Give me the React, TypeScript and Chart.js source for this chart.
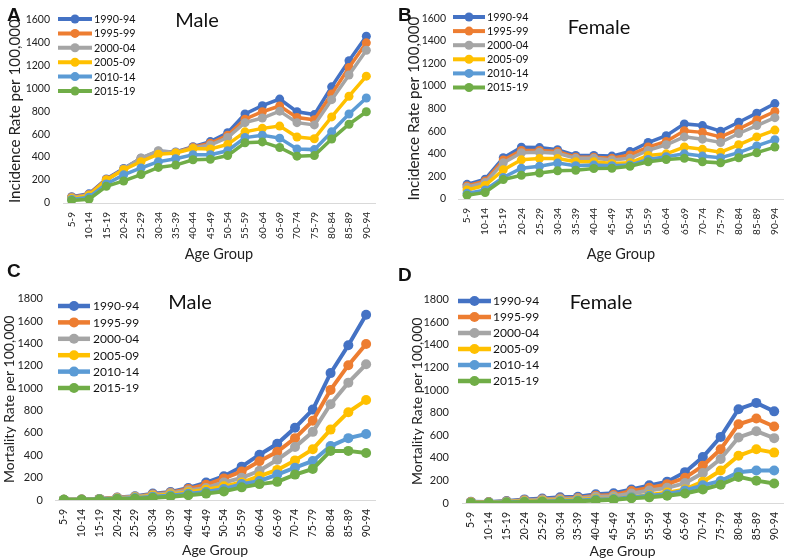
import React, { useEffect, useRef } from 'react';
import { Chart, registerables } from 'chart.js';

Chart.register(...registerables);

const ageGroups = ['5-9', '10-14', '15-19', '20-24', '25-29', '30-34', '35-39', '40-44', '45-49', '50-54', '55-59', '60-64', '65-69', '70-74', '75-79', '80-84', '85-89', '90-94'];
const periods = ['1990-94', '1995-99', '2000-04', '2005-09', '2010-14', '2015-19'];
const periodColors = ['#4472C4', '#ED7D31', '#A5A5A5', '#FFC000', '#5B9BD5', '#70AD47'];

const incidenceTicks = [0, 200, 400, 600, 800, 1000, 1200, 1400, 1600];
const mortalityTicks = [0, 200, 400, 600, 800, 1000, 1200, 1400, 1600, 1800];

const maleIncidence = [
  [55, 80, 210, 300, 390, 450, 445, 490, 535, 612, 775, 848, 905, 795, 770, 1012, 1240, 1452],
  [50, 75, 205, 295, 385, 440, 440, 485, 520, 590, 730, 795, 845, 745, 725, 950, 1180, 1395],
  [45, 70, 200, 295, 392, 455, 440, 480, 505, 570, 700, 740, 800, 700, 680, 900, 1115, 1330],
  [40, 65, 200, 290, 360, 425, 435, 475, 470, 510, 620, 650, 670, 575, 560, 750, 930, 1105],
  [30, 50, 165, 245, 305, 360, 385, 420, 420, 455, 570, 590, 565, 470, 465, 620, 775, 915],
  [22, 32, 145, 192, 248, 310, 330, 377, 380, 413, 525, 532, 483, 408, 413, 557, 686, 795],
];

const femaleIncidence = [
  [130, 175, 365, 458, 455, 436, 386, 386, 380, 420, 500, 560, 665, 650, 600, 680, 760, 845],
  [115, 160, 345, 430, 430, 420, 370, 370, 360, 390, 460, 510, 605, 590, 550, 620, 700, 775],
  [105, 145, 320, 410, 415, 405, 360, 360, 345, 360, 430, 480, 550, 530, 500, 580, 650, 720],
  [80, 120, 258, 347, 358, 358, 330, 330, 315, 320, 385, 400, 460, 440, 415, 480, 550, 610],
  [50, 80, 190, 272, 290, 318, 295, 300, 295, 300, 350, 375, 400, 380, 365, 410, 470, 525],
  [33, 58, 172, 210, 230, 250, 255, 270, 272, 290, 330, 350, 360, 330, 320, 365, 410, 460],
];

const maleMortality = [
  [3, 5, 10, 23, 34, 57, 71, 108, 156, 213, 298, 405, 502, 646, 808, 1134, 1383, 1656],
  [3, 4, 10, 20, 30, 50, 65, 99, 136, 193, 255, 346, 431, 553, 709, 984, 1205, 1395],
  [3, 4, 9, 18, 28, 45, 60, 85, 108, 156, 198, 261, 360, 473, 609, 856, 1049, 1213],
  [2, 3, 7, 14, 22, 38, 50, 70, 91, 122, 156, 213, 269, 354, 454, 629, 785, 893],
  [2, 3, 6, 12, 18, 30, 40, 55, 71, 99, 142, 170, 227, 289, 349, 482, 553, 590],
  [2, 2, 5, 8, 12, 20, 30, 43, 57, 77, 113, 142, 162, 227, 278, 439, 439, 420],
];

const femaleMortality = [
  [10, 8, 18, 32, 40, 50, 55, 78, 86, 120, 156, 189, 273, 407, 585, 830, 886, 811],
  [8, 6, 14, 25, 32, 40, 45, 65, 70, 106, 134, 167, 223, 329, 476, 697, 747, 677],
  [6, 5, 12, 22, 28, 35, 40, 55, 60, 84, 111, 134, 176, 265, 390, 580, 635, 574],
  [4, 3, 8, 15, 20, 25, 28, 38, 40, 50, 70, 92, 120, 189, 287, 418, 476, 446],
  [3, 2, 6, 10, 14, 18, 22, 30, 35, 50, 64, 78, 111, 156, 195, 273, 287, 287],
  [2, 2, 5, 8, 10, 12, 15, 22, 28, 42, 50, 64, 84, 120, 162, 231, 198, 173],
];

const FONT = 'Lato, "Open Sans", sans-serif';

type Panel = {
  left: number; top: number; w: number; h: number;
  series: number[][]; ticks: number[]; yTitle: string; title: string;
  area: { l: number; r: number; t: number; b: number };
  padBottom: number; yTitlePad: number; yTickPad: number;
  tickSize: number; xTickSize: number; yTitleSize: number; xTitleSize: number; legendSize: number;
  legend: { x0: number; x1: number; tx: number; y0: number; dy: number };
  titlePos: { x: number; y: number };
  lineW: number; radius: number;
};

const panels: Panel[] = [
  {
    left: 0, top: 0, w: 396, h: 280, series: maleIncidence, ticks: incidenceTicks,
    yTitle: 'Incidence Rate per 100,000', title: 'Male',
    area: { l: 63, r: 375, t: 12, b: 203 }, padBottom: 17, yTitlePad: 6, yTickPad: 13,
    tickSize: 10.5, xTickSize: 10, yTitleSize: 15.2, xTitleSize: 14.5, legendSize: 10.8,
    legend: { x0: 58, x1: 92, tx: 94, y0: 19, dy: 14.4 }, titlePos: { x: 197, y: 21 },
    lineW: 3.5, radius: 4.5,
  },
  {
    left: 396, top: 0, w: 400, h: 280, series: femaleIncidence, ticks: incidenceTicks,
    yTitle: 'Incidence Rate per 100,000', title: 'Female',
    area: { l: 62, r: 397, t: 7, b: 199 }, padBottom: 17, yTitlePad: 9, yTickPad: 12,
    tickSize: 10.5, xTickSize: 10, yTitleSize: 15.2, xTitleSize: 14.5, legendSize: 10.8,
    legend: { x0: 57, x1: 89, tx: 91, y0: 17, dy: 14.1 }, titlePos: { x: 203, y: 28 },
    lineW: 3.5, radius: 4.5,
  },
  {
    left: 0, top: 280, w: 396, h: 280, series: maleMortality, ticks: mortalityTicks,
    yTitle: 'Mortality Rate per 100,000', title: 'Male',
    area: { l: 55, r: 375, t: 8, b: 220 }, padBottom: 1, yTitlePad: 1, yTickPad: 12,
    tickSize: 11, xTickSize: 10.5, yTitleSize: 14, xTitleSize: 14, legendSize: 12,
    legend: { x0: 58, x1: 90, tx: 93, y0: 26, dy: 16.4 }, titlePos: { x: 190, y: 23 },
    lineW: 4, radius: 5,
  },
  {
    left: 396, top: 280, w: 400, h: 280, series: femaleMortality, ticks: mortalityTicks,
    yTitle: 'Mortality Rate per 100,000', title: 'Female',
    area: { l: 66, r: 392, t: 7, b: 223 }, padBottom: 0, yTitlePad: 13, yTickPad: 13,
    tickSize: 11, xTickSize: 10.5, yTitleSize: 14, xTitleSize: 14, legendSize: 12,
    legend: { x0: 62, x1: 95, tx: 97, y0: 21, dy: 16 }, titlePos: { x: 205, y: 23 },
    lineW: 4, radius: 5,
  },
];

function makeChart(canvas: HTMLCanvasElement, p: Panel) {
  const overlay = {
    id: 'overlay',
    afterDraw(chart: any) {
      const ctx = chart.ctx as CanvasRenderingContext2D;
      ctx.save();
      ctx.fillStyle = '#111';
      ctx.font = `20px ${FONT}`;
      ctx.textAlign = 'center';
      ctx.textBaseline = 'middle';
      ctx.fillText(p.title, p.titlePos.x, p.titlePos.y);
      ctx.font = `${p.legendSize}px ${FONT}`;
      ctx.textAlign = 'left';
      periods.forEach((name, i) => {
        const y = p.legend.y0 + i * p.legend.dy;
        ctx.strokeStyle = periodColors[i];
        ctx.lineWidth = p.lineW + 0.5;
        ctx.beginPath();
        ctx.moveTo(p.legend.x0, y);
        ctx.lineTo(p.legend.x1, y);
        ctx.stroke();
        ctx.fillStyle = periodColors[i];
        ctx.beginPath();
        ctx.arc((p.legend.x0 + p.legend.x1) / 2, y, p.radius, 0, Math.PI * 2);
        ctx.fill();
        ctx.fillStyle = '#111';
        ctx.fillText(name, p.legend.tx, y + 0.5);
      });
      ctx.restore();
    },
  };

  return new Chart(canvas, {
    type: 'line',
    data: {
      labels: ageGroups,
      datasets: p.series.map((vals, i) => ({
        label: periods[i],
        data: vals,
        borderColor: periodColors[i],
        backgroundColor: periodColors[i],
        pointBackgroundColor: periodColors[i],
        pointBorderWidth: 0,
        pointRadius: p.radius,
        borderWidth: p.lineW,
        tension: 0,
        order: periods.length - i,
      })),
    },
    options: {
      animation: false,
      responsive: false,
      devicePixelRatio: 1,
      layout: { padding: { left: 0, top: p.area.t, right: p.w - p.area.r, bottom: p.padBottom } },
      plugins: { legend: { display: false }, tooltip: { enabled: false }, title: { display: false } },
      scales: {
        x: {
          type: 'category',
          offset: true,
          grid: { display: false, drawTicks: false },
          border: { display: true, color: '#d9d9d9', width: 1 },
          ticks: {
            autoSkip: false, minRotation: 90, maxRotation: 90, padding: 9,
            color: '#222', font: { family: FONT, size: p.xTickSize },
          },
          title: {
            display: true, text: 'Age Group', color: '#222',
            font: { family: FONT, size: p.xTitleSize }, padding: { top: 0, bottom: 0 },
          },
          afterFit: (s: any) => { s.height = p.h - p.padBottom - p.area.b; },
        },
        y: {
          min: 0,
          max: p.ticks[p.ticks.length - 1],
          afterBuildTicks: (s: any) => { s.ticks = p.ticks.map((v) => ({ value: v })); },
          grid: { display: false, drawTicks: false },
          border: { display: false },
          ticks: {
            padding: p.yTickPad, color: '#222', font: { family: FONT, size: p.tickSize },
            callback: (v: any) => String(v),
          },
          title: {
            display: true, text: p.yTitle, color: '#222',
            font: { family: FONT, size: p.yTitleSize }, padding: { top: p.yTitlePad, bottom: 0 },
          },
          afterFit: (s: any) => { s.width = p.area.l; },
        },
      },
    },
    plugins: [overlay],
  } as any);
}

const panelLetters = [
  { t: 'A', x: 7, y: 5 },
  { t: 'B', x: 398, y: 5 },
  { t: 'C', x: 7, y: 261 },
  { t: 'D', x: 398, y: 265 },
];

export default function App() {
  const refs = useRef<(HTMLCanvasElement | null)[]>([]);
  useEffect(() => {
    const charts = panels.map((p, i) => makeChart(refs.current[i] as HTMLCanvasElement, p));
    return () => charts.forEach((c) => c.destroy());
  }, []);
  return (
    <div style={{ position: 'absolute', left: 0, top: 0, width: 796, height: 560, background: '#fff', overflow: 'hidden' }}>
      {panels.map((p, i) => (
        <canvas
          key={i}
          ref={(el) => { refs.current[i] = el; }}
          width={p.w}
          height={p.h}
          style={{ position: 'absolute', left: p.left, top: p.top, width: p.w, height: p.h }}
        />
      ))}
      {panelLetters.map((l) => (
        <div
          key={l.t}
          style={{
            position: 'absolute', left: l.x, top: l.y, fontFamily: '"Liberation Sans", Arial, sans-serif',
            fontWeight: 'bold', fontSize: 19, lineHeight: '19px', color: '#111',
          }}
        >
          {l.t}
        </div>
      ))}
    </div>
  );
}
